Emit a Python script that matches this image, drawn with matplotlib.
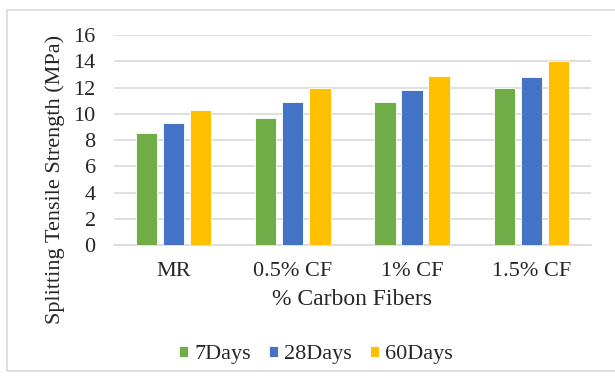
import numpy as np
import matplotlib
matplotlib.use('Agg')
import matplotlib.pyplot as plt
from matplotlib.patches import Rectangle

# data
categories = ['MR', '0.5% CF', '1% CF', '1.5% CF']
days7 = [8.5, 9.7, 10.9, 12.0]
days28 = [9.3, 10.9, 11.8, 12.8]
days60 = [10.3, 12.0, 12.9, 14.0]
series_names = ['7Days', '28Days', '60Days']
colors = ['#70AD47', '#4472C4', '#FFC000']

plt.rcParams['font.family'] = ['Liberation Serif', 'DejaVu Serif']

fig = plt.figure(figsize=(6.15, 3.81), dpi=100)
ax = fig.add_axes([0.185, 0.357, 0.776, 0.551])

# light frame round the whole chart
fig.patches.append(Rectangle((7 / 615, 10 / 381), 1.1, 361 / 381, transform=fig.transFigure,
                             fill=False, edgecolor='#D9D9D9', linewidth=1.2))

x = np.arange(len(categories))
width = 0.18
step = 0.227
for i, (vals, name) in enumerate(zip([days7, days28, days60], series_names)):
    ax.bar(x + (i - 1) * step, vals, width, color=colors[i], label=name,
           edgecolor='white', linewidth=0.6, zorder=3)

ax.set_xlim(-0.5, 3.5)
ax.set_ylim(0, 16)
ax.set_yticks(range(0, 17, 2))
ax.yaxis.grid(True, color='#D9D9D9', linewidth=1.2, zorder=0)
ax.tick_params(axis='both', length=0, labelsize=16, colors='#262626')
ax.tick_params(axis='y', pad=13)
ax.tick_params(axis='x', pad=12)
ax.set_xticks(x)
ax.set_xticklabels(categories)
for s in ['top', 'right', 'left']:
    ax.spines[s].set_visible(False)
ax.spines['bottom'].set_color('#D9D9D9')
ax.spines['bottom'].set_linewidth(1.2)

ax.set_ylabel('Splitting Tensile Strength (MPa)', fontsize=16, color='#262626')
ax.yaxis.set_label_coords(-0.103, 0.31)
ax.set_xlabel('% Carbon Fibers', fontsize=17, color='#262626', labelpad=6)

fig.legend(loc='center', bbox_to_anchor=(316 / 615, 1 - 355 / 381), ncol=3, frameon=False,
           fontsize=16, handlelength=0.4, handleheight=0.4, handletextpad=0.3,
           columnspacing=0.8, labelcolor='#262626')

plt.savefig('out.png', dpi=100)
